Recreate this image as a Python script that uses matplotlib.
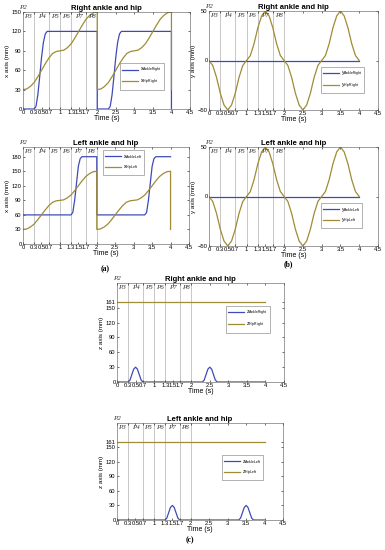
import matplotlib
matplotlib.use('Agg')
import matplotlib.pyplot as plt

plt.rcParams['font.family'] = 'Liberation Sans'
plt.rcParams['mathtext.fontset'] = 'custom'
plt.rcParams['mathtext.rm'] = 'Liberation Sans'
plt.rcParams['mathtext.it'] = 'Liberation Sans:italic'

# phase boundaries and labels
phase_bounds = [0.3, 0.7, 1, 1.3, 1.7, 2]
phase_names = ['P3', 'P4', 'P5', 'P6', 'P7', 'P8']
phase_pos = [0.13, 0.5, 0.85, 1.15, 1.5, 1.85]
time_ticks = [0, 0.3, 0.5, 0.7, 1, 1.3, 1.5, 1.7, 2, 2.5, 3, 3.5, 4, 4.5]
time_labels = ['0', '0.3', '0.5', '0.7', '1', '1.3', '1.5', '1.7', '2', '2.5', '3', '3.5', '4', '4.5']

# (a) x axis
t_ankle_xr = [0, 0.3, 0.35, 0.4, 0.45, 0.5, 0.55, 0.6, 0.65, 2.0, 2.0,
              2.3, 2.35, 2.4, 2.45, 2.5, 2.55, 2.6, 2.65, 4.0, 4.0]
ankle_xr = [0, 0, 4, 22, 50, 80, 103, 116, 120, 120, 0,
            0, 4, 22, 50, 80, 103, 116, 120, 120, 0]

t_hip_x = [0, 0.1, 0.2, 0.3, 0.4, 0.5, 0.6, 0.7, 0.8, 0.9, 1.0, 1.1, 1.2, 1.3, 1.4,
           1.5, 1.6, 1.7, 1.8, 1.9, 2.0, 2.0,
           2.1, 2.2, 2.3, 2.4, 2.5, 2.6, 2.7, 2.8, 2.9, 3.0, 3.1, 3.2, 3.3, 3.4,
           3.5, 3.6, 3.7, 3.8, 3.9, 4.0, 4.0]
hip_xr = [30, 31, 35, 41, 50, 60, 70, 79, 86, 89, 90, 91, 95, 101, 110,
          120, 130, 139, 145, 149, 150, 30,
          31, 35, 41, 50, 60, 70, 79, 86, 89, 90, 91, 95, 101, 110,
          120, 130, 139, 145, 149, 150, 30]

t_ankle_xl = [0, 1.3, 1.35, 1.4, 1.45, 1.5, 1.55, 1.6, 2.0, 2.0,
              3.3, 3.35, 3.4, 3.45, 3.5, 3.55, 3.6, 4.0]
ankle_xl = [60, 60, 65, 90, 125, 160, 176, 180, 180, 60,
            60, 65, 90, 125, 160, 176, 180, 180]
hip_xl = [30, 31, 35, 41, 50, 60, 70, 79, 86, 89, 90, 91, 95, 101, 110,
          120, 130, 139, 145, 149, 150, 30,
          31, 35, 41, 50, 60, 70, 79, 86, 89, 90, 91, 95, 101, 110,
          120, 130, 139, 145, 149, 150, 30]

# (b) y axis
t_flat = [0, 4.0]
ankle_y = [0, 0]
t_hip_y = [0, 0.1, 0.2, 0.3, 0.4, 0.5, 0.6, 0.7, 0.8, 0.9, 1.0, 1.1, 1.2, 1.3, 1.4,
           1.5, 1.6, 1.7, 1.8, 1.9, 2.0, 2.1, 2.2, 2.3, 2.4, 2.5, 2.6, 2.7, 2.8,
           2.9, 3.0, 3.1, 3.2, 3.3, 3.4, 3.5, 3.6, 3.7, 3.8, 3.9, 4.0]
hip_yr = [0, -5, -17, -33, -45, -50, -45, -33, -17, -5, 0, 5, 17, 33, 45,
          50, 45, 33, 17, 5, 0, -5, -17, -33, -45, -50, -45, -33, -17,
          -5, 0, 5, 17, 33, 45, 50, 45, 33, 17, 5, 0]
hip_yl = [0, -5, -17, -33, -45, -50, -45, -33, -17, -5, 0, 5, 17, 33, 45,
          50, 45, 33, 17, 5, 0, -5, -17, -33, -45, -50, -45, -33, -17,
          -5, 0, 5, 17, 33, 45, 50, 45, 33, 17, 5, 0]

# (c) z axis
t_ankle_zr = [0, 0.3, 0.35, 0.4, 0.45, 0.5, 0.55, 0.6, 0.65, 0.7,
              2.3, 2.35, 2.4, 2.45, 2.5, 2.55, 2.6, 2.65, 2.7, 4.0]
ankle_zr = [0, 0, 4, 15, 26, 30, 26, 15, 4, 0,
            0, 4, 15, 26, 30, 26, 15, 4, 0, 0]
t_ankle_zl = [0, 1.3, 1.35, 1.4, 1.45, 1.5, 1.55, 1.6, 1.65, 1.7,
              3.3, 3.35, 3.4, 3.45, 3.5, 3.55, 3.6, 3.65, 3.7, 4.0]
ankle_zl = [0, 0, 4, 15, 26, 30, 26, 15, 4, 0,
            0, 4, 15, 26, 30, 26, 15, 4, 0, 0]
hip_z = [161, 161]

BLUE = '#3f4bb5'
OLIVE = '#9f8c35'

W, H = 385, 550
fig = plt.figure(figsize=(W / 100, H / 100), dpi=100)


def box(x0, y0, x1, y1):
    return [x0 / W, 1 - y1 / H, (x1 - x0) / W, (y1 - y0) / H]


panels = [
    dict(rect=box(23, 12, 190, 109), title='Right ankle and hip', ylabel='x axis (mm)',
         ankle=(t_ankle_xr, ankle_xr), hip=(t_hip_x, hip_xr), ylim=(0, 150),
         yticks=[0, 30, 60, 90, 120, 150], labels=('x', 'AnkleRight', 'HipRight'),
         leg=(0.58, 0.2)),
    dict(rect=box(209, 11, 378, 110), title='Right ankle and hip', ylabel='y axis (mm)',
         ankle=(t_flat, ankle_y), hip=(t_hip_y, hip_yr), ylim=(-50, 50),
         yticks=[-50, 0, 50], labels=('y', 'AnkleRight', 'HipRight'),
         leg=(0.66, 0.17)),
    dict(rect=box(23, 147, 189, 244), title='Left ankle and hip', ylabel='x axis (mm)',
         ankle=(t_ankle_xl, ankle_xl), hip=(t_hip_x, hip_xl), ylim=(0, 200),
         yticks=[0, 30, 60, 90, 120, 150, 180], labels=('x', 'AnkleLeft', 'HipLeft'),
         leg=(0.48, 0.71)),
    dict(rect=box(209, 147, 378, 246), title='Left ankle and hip', ylabel='y axis (mm)',
         ankle=(t_flat, ankle_y), hip=(t_hip_y, hip_yl), ylim=(-50, 50),
         yticks=[-50, 0, 50], labels=('y', 'AnkleLeft', 'HipLeft'),
         leg=(0.66, 0.18)),
    dict(rect=box(117, 283, 284, 382), title='Right ankle and hip', ylabel='z axis (mm)',
         ankle=(t_ankle_zr, ankle_zr), hip=(t_flat, hip_z), ylim=(0, 200),
         yticks=[0, 30, 60, 90, 120, 150, 161], labels=('z', 'AnkleRight', 'HipRight'),
         leg=(0.65, 0.5)),
    dict(rect=box(117, 423, 283, 520), title='Left ankle and hip', ylabel='z axis (mm)',
         ankle=(t_ankle_zl, ankle_zl), hip=(t_flat, hip_z), ylim=(0, 200),
         yticks=[0, 30, 60, 90, 120, 150, 161], labels=('z', 'AnkleLeft', 'HipLeft'),
         leg=(0.63, 0.41)),
]

for p in panels:
    ax = fig.add_axes(p['rect'])
    for b in phase_bounds:
        ax.axvline(b, color='#b0b0b0', lw=0.5, zorder=0)
    v, a, h = p['labels']
    ax.plot(*p['ankle'], color=BLUE, lw=0.9, label=r'$\mathrm{%s}_{\mathrm{%s}}$' % (v, a))
    ax.plot(*p['hip'], color=OLIVE, lw=0.9, label=r'$\mathrm{%s}_{\mathrm{%s}}$' % (v, h))
    ax.set_xlim(0, 4.5)
    ax.set_ylim(*p['ylim'])
    ax.set_xticks(time_ticks)
    ax.set_xticklabels(time_labels)
    ax.set_yticks(p['yticks'])
    ax.tick_params(direction='in', length=1.5, width=0.4, labelsize=4.2, pad=1,
                   top=True, right=True)
    for s in ax.spines.values():
        s.set_linewidth(0.4)
        s.set_color('#555555')
    ax.set_title(p['title'], fontsize=5.5, fontweight='bold', pad=1.5)
    ax.set_xlabel('Time (s)', fontsize=5, labelpad=0)
    ax.set_ylabel(p['ylabel'], fontsize=4.5, labelpad=1)
    for name, pos in zip(phase_names, phase_pos):
        ax.text(pos, 0.98, name, transform=ax.get_xaxis_transform(), ha='center', va='top',
                fontsize=5, family='Liberation Serif', style='italic', color='#333333')
    ax.text(0, 1.02, 'P2', transform=ax.transAxes, ha='center', va='bottom',
            fontsize=5, family='Liberation Serif', style='italic', color='#333333')
    leg = ax.legend(loc='lower left', bbox_to_anchor=p['leg'], fontsize=3.6, frameon=True,
                    fancybox=False, edgecolor='#555555', handlelength=3.2,
                    borderpad=0.5, labelspacing=0.55, handletextpad=0.3,
                    borderaxespad=0)
    leg.get_frame().set_linewidth(0.4)

fig.text(105 / W, 1 - 269 / H, '(a)', ha='center', va='center', fontsize=5.5,
         fontweight='bold', family='Liberation Serif')
fig.text(288 / W, 1 - 264 / H, '(b)', ha='center', va='center', fontsize=5.5,
         fontweight='bold', family='Liberation Serif')
fig.text(190 / W, 1 - 540 / H, '(c)', ha='center', va='center', fontsize=5.5,
         fontweight='bold', family='Liberation Serif')

fig.savefig('out.png', dpi=100)
